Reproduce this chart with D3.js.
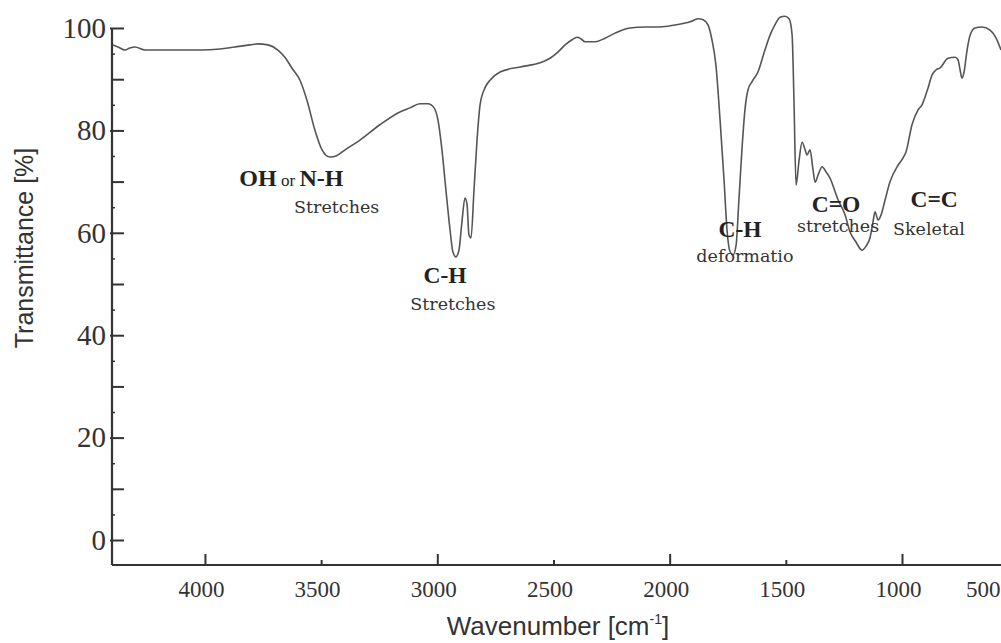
<!DOCTYPE html>
<html>
<head>
<meta charset="utf-8">
<script src="https://cdnjs.cloudflare.com/ajax/libs/d3/7.8.5/d3.min.js"></script>
<style>
  body { margin: 0; background: #fff; }
  svg { display: block; }
</style>
</head>
<body>
<div id="chart"></div>
<script>
// IR spectrum
var wavenumber = [4396, 4374, 4344, 4323, 4301, 4258, 4194, 4108, 4022, 3935, 3871, 3806, 3772, 3729, 3686,
  3656, 3626, 3591, 3561, 3527, 3496, 3462, 3436, 3397, 3333, 3247, 3161, 3118, 3075, 3040, 3014, 2997,
  2980, 2963, 2945, 2933, 2920, 2907, 2894, 2881, 2872, 2864, 2855, 2842, 2829, 2816, 2795, 2773, 2730,
  2644, 2558, 2515, 2481, 2450, 2420, 2399, 2382, 2364, 2321, 2278, 2235, 2171, 2106, 2042, 1977, 1912,
  1878, 1856, 1835, 1818, 1801, 1783, 1766, 1753, 1740, 1727, 1714, 1702, 1689, 1676, 1663, 1646, 1620,
  1590, 1568, 1547, 1525, 1504, 1486, 1473, 1465, 1456, 1443, 1430, 1417, 1409, 1396, 1383, 1374, 1361,
  1344, 1327, 1310, 1275, 1245, 1224, 1198, 1172, 1155, 1138, 1125, 1116, 1103, 1090, 1073, 1052, 1017,
  996, 983, 957, 931, 914, 888, 871, 854, 836, 802, 772, 759, 750, 742, 733, 720, 707, 686, 656, 621,
  595, 574];
var transmittance = [96.7, 96.3, 95.7, 96.1, 96.3, 95.7, 95.7, 95.7, 95.7, 95.9, 96.3, 96.7, 96.9, 96.7, 95.7,
  94.3, 92.2, 89.8, 85.9, 80.1, 76.2, 74.8, 75.0, 76.2, 78.1, 81.1, 83.6, 84.4, 85.2, 85.2, 84.4, 82.0,
  76.2, 68.4, 60.5, 56.3, 55.3, 56.6, 62.1, 66.8, 65.6, 59.6, 59.0, 68.4, 78.1, 85.0, 88.3, 89.8, 91.4,
  92.4, 93.2, 94.1, 95.3, 96.7, 97.7, 98.2, 97.9, 97.3, 97.3, 98.0, 99.0, 100.0, 100.2, 100.2, 100.6, 101.2,
  101.8, 101.6, 100.6, 97.7, 92.8, 82.0, 70.3, 60.5, 56.3, 55.7, 57.6, 66.4, 76.2, 84.0, 87.9, 89.5, 91.4,
  95.7, 98.6, 100.6, 102.1, 102.3, 101.8, 98.6, 85.9, 69.3, 74.2, 77.7, 76.2, 75.2, 76.2, 72.3, 69.9, 71.3,
  72.9, 71.9, 70.7, 66.4, 63.5, 60.2, 58.2, 56.6, 57.4, 59.0, 62.1, 64.1, 62.5, 63.5, 66.4, 69.9, 73.2,
  74.6, 75.8, 81.1, 84.0, 85.0, 88.3, 90.8, 91.8, 92.2, 94.1, 94.3, 93.8, 91.8, 90.2, 91.4, 95.7, 98.6,
  100.0, 100.2, 99.6, 98.0, 95.7];

var xTicks = [4000, 3500, 3000, 2500, 2000, 1500, 1000, 500];
var yTicks = [0, 20, 40, 60, 80, 100];

// band labels: title + sub text, anchored in data units
var annTitle = ["OH|or|N-H", "C-H", "C-H", "C=O", "C=C"];
var annSub = ["Stretches", "Stretches", "deformatio", "stretches", "Skeletal"];
var annWave = [3628, 2967, 1697, 1284, 862];
var annT = [69.1, 50.2, 59.2, 64.1, 65.0];
var annSubWave = [3433, 2933, 1676, 1275, 884];
var annSubT = [63.9, 44.9, 54.3, 60.2, 59.6];

var width = 1001, height = 643;
var svg = d3.select('#chart').append('svg').attr('width', width).attr('height', height);

var x = d3.scaleLinear().domain([4400, 574]).range([112, 1001]);
var y = d3.scaleLinear().domain([-4.88, 100]).range([565, 28]);

var axisColor = '#333';
var serif = '"Liberation Serif", "Times New Roman", serif';
var labelSerif = '"DejaVu Serif", serif';

// y axis, ticks pointing into the plot
var yAxis = svg.append('g').attr('transform', 'translate(112,0)')
  .call(d3.axisLeft(y).tickValues(yTicks).tickSizeInner(-12).tickSizeOuter(0).tickPadding(6));
yAxis.select('.domain').remove();
yAxis.selectAll('.tick line').attr('x1', -2).attr('x2', 12).attr('stroke', axisColor).attr('stroke-width', 2);
yAxis.selectAll('.tick text').attr('font-family', serif).attr('font-size', 29).attr('fill', '#333');

var yMinor = svg.append('g').attr('transform', 'translate(112,0)')
  .call(d3.axisLeft(y).tickValues([10, 30, 50, 70, 90]).tickSizeInner(-12).tickSizeOuter(0).tickFormat(''));
yMinor.select('.domain').remove();
yMinor.selectAll('.tick line').attr('stroke', axisColor).attr('stroke-width', 2);

var yTiny = svg.append('g').attr('transform', 'translate(112,0)')
  .call(d3.axisLeft(y).tickValues(d3.range(5, 100, 10)).tickSizeInner(-3).tickSizeOuter(0).tickFormat(''));
yTiny.select('.domain').remove();
yTiny.selectAll('.tick line').attr('stroke', axisColor).attr('stroke-width', 1.5);

svg.append('line').attr('x1', 112).attr('x2', 112).attr('y1', y(100)).attr('y2', y(-4.88))
  .attr('stroke', axisColor).attr('stroke-width', 2.2);

// x axis
var xAxis = svg.append('g').attr('transform', 'translate(0,565)')
  .call(d3.axisBottom(x).tickValues(xTicks).tickSizeOuter(0).tickPadding(10).tickFormat(d3.format('d')));
xAxis.select('.domain').remove();
xAxis.selectAll('.tick line')
  .attr('y2', function (d) { return d % 1000 === 0 ? -11 : -5; })
  .attr('stroke', axisColor).attr('stroke-width', 2);
xAxis.selectAll('.tick text').attr('font-family', serif).attr('font-size', 23).attr('fill', '#333')
  .attr('dx', -4);
// last label sits against the right edge in the original
xAxis.selectAll('.tick').filter(function (d) { return d === 500; })
  .select('text').attr('text-anchor', 'end').attr('dx', 0).attr('x', 1000 - x(500));

svg.append('line').attr('x1', 112).attr('x2', width).attr('y1', 565).attr('y2', 565)
  .attr('stroke', axisColor).attr('stroke-width', 2.2);

// axis titles
svg.append('text')
  .attr('transform', 'translate(33,' + 248 + ') rotate(-90)')
  .attr('text-anchor', 'middle')
  .attr('font-family', '"Liberation Sans", Arial, sans-serif').attr('font-size', 25).attr('fill', '#333')
  .text('Transmittance [%]');

var xt = svg.append('text').attr('x', 558).attr('y', 635).attr('text-anchor', 'middle')
  .attr('font-family', '"Liberation Sans", Arial, sans-serif').attr('font-size', 26).attr('fill', '#333');
xt.append('tspan').text('Wavenumber [cm');
xt.append('tspan').attr('font-size', 14).attr('dy', -11).text('-1');
xt.append('tspan').attr('dy', 11).text(']');

// spectrum
var pts = d3.zip(wavenumber, transmittance);
var line = d3.line()
  .x(function (d) { return x(d[0]); })
  .y(function (d) { return y(d[1]); })
  .curve(d3.curveMonotoneX);

svg.append('path').datum(pts).attr('d', line)
  .attr('fill', 'none').attr('stroke', '#555').attr('stroke-width', 1.6).attr('stroke-linejoin', 'round');

// band annotations
annTitle.forEach(function (t, i) {
  var txt = svg.append('text').attr('x', x(annWave[i])).attr('y', y(annT[i]))
    .attr('text-anchor', 'middle').attr('font-family', serif).attr('fill', '#222');
  var parts = t.split('|');
  if (parts.length === 3) {
    txt.append('tspan').attr('font-weight', 'bold').attr('font-size', 24).text(parts[0]);
    txt.append('tspan').attr('font-size', 17).text(' ' + parts[1] + ' ');
    txt.append('tspan').attr('font-weight', 'bold').attr('font-size', 24).text(parts[2]);
  } else {
    txt.attr('font-weight', 'bold').attr('font-size', 23.5).text(t);
  }
  svg.append('text').attr('x', x(annSubWave[i])).attr('y', y(annSubT[i]))
    .attr('text-anchor', 'middle').attr('font-family', labelSerif).attr('font-size', 17.5)
    .attr('fill', '#333').text(annSub[i]);
});
</script>
</body>
</html>
